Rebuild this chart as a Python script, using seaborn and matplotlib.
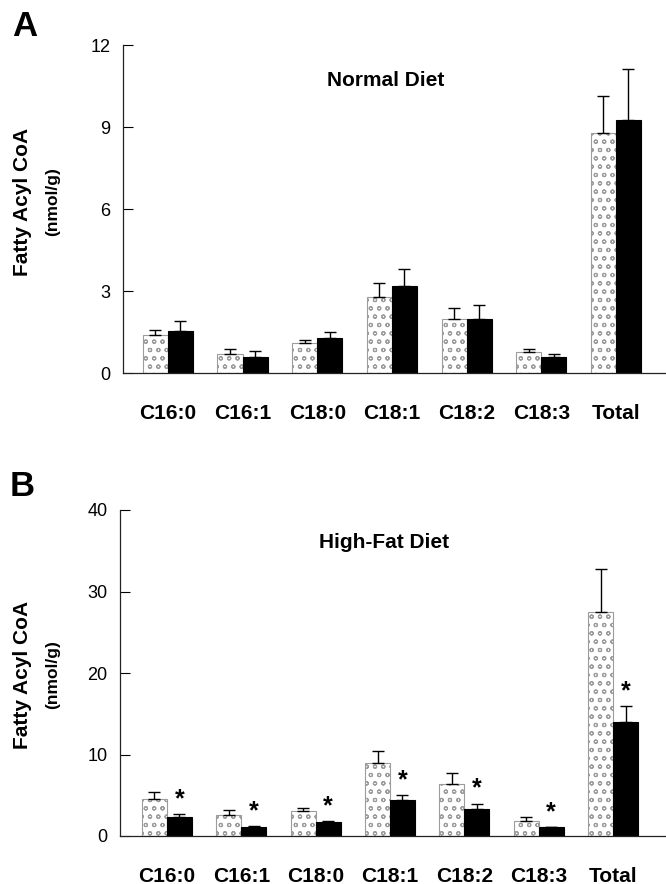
import seaborn as sns
import matplotlib.pyplot as plt
import pandas as pd

# fatty acyl CoA species on the x axis
species = ['C16:0', 'C16:1', 'C18:0', 'C18:1', 'C18:2', 'C18:3', 'Total']
groups = ['Control', 'Treated']

# Panel A - normal diet (nmol/g), mean and SE
normalCtrl = [1.40, 0.70, 1.08, 2.79, 1.98, 0.78, 8.77]
normalCtrlErr = [0.19, 0.19, 0.12, 0.49, 0.40, 0.10, 1.36]
normalTrt = [1.52, 0.59, 1.29, 3.18, 1.98, 0.57, 9.26]
normalTrtErr = [0.39, 0.20, 0.20, 0.61, 0.50, 0.11, 1.86]

# Panel B - high-fat diet (nmol/g), mean and SE
highCtrl = [4.6, 2.63, 3.03, 8.9, 6.43, 1.89, 27.5]
highCtrlErr = [0.8, 0.53, 0.41, 1.54, 1.31, 0.41, 5.2]
highTrt = [2.33, 1.10, 1.72, 4.42, 3.32, 1.07, 14.0]
highTrtErr = [0.34, 0.13, 0.17, 0.66, 0.66, 0.08, 2.0]
highStars = [True, True, True, True, True, True, True]

sns.set_style('white')
plt.rcParams['font.family'] = ['Liberation Sans', 'DejaVu Sans']
plt.rcParams['hatch.linewidth'] = 0.8
for k in ['text.color', 'axes.labelcolor', 'xtick.color', 'ytick.color']:
    plt.rcParams[k] = 'black'

W, H = 666, 884
fig = plt.figure(figsize=(W / 100, H / 100), dpi=100)


def drawPanel(rect, ctrl, ctrlErr, trt, trtErr, ymax, yticks, xlim, title, titleXY, letter, letterXY, ylabY, stars=None):
    ax = fig.add_axes(rect)
    df = pd.DataFrame({
        'species': species * 2,
        'group': [groups[0]] * len(species) + [groups[1]] * len(species),
        'value': ctrl + trt,
    })
    sns.barplot(data=df, x='species', y='value', hue='group', order=species, hue_order=groups,
                palette=['white', 'black'], width=0.67, gap=0, legend=False, errorbar=None,
                edgecolor='black', linewidth=0.8, ax=ax)

    errs = ctrlErr + trtErr
    vals = ctrl + trt
    patches = [p for p in ax.patches][:len(vals)]
    for i, p in enumerate(patches):
        if i < len(species):
            p.set_hatch('oo')
            p.set_edgecolor('#9c9c9c')
            p.set_linewidth(0.8)
        cx = p.get_x() + p.get_width() / 2
        ax.errorbar(cx, vals[i], yerr=[[0], [errs[i]]], fmt='none', ecolor='black',
                    elinewidth=1, capsize=4, capthick=1, zorder=1)
        if stars is not None and i >= len(species) and stars[i - len(species)]:
            ax.annotate('*', (cx, vals[i] + errs[i]), xytext=(0, 2), textcoords='offset points',
                        ha='center', va='bottom', fontsize=18, fontweight='bold')

    ax.set_ylim(0, ymax)
    ax.set_xlim(*xlim)
    ax.set_yticks(yticks)
    ax.set_xlabel('')
    ax.set_ylabel('')
    sns.despine(ax=ax)
    for s in ['left', 'bottom']:
        ax.spines[s].set_linewidth(0.9)
        ax.spines[s].set_color('#222222')
    ax.tick_params(axis='y', direction='in', length=7, width=0.8, labelsize=13, pad=9, left=True)
    ax.tick_params(axis='x', length=0, pad=22)
    for lab in ax.get_xticklabels():
        lab.set_fontweight('bold')
        lab.set_fontsize(15)

    fig.text(titleXY[0] / W, 1 - titleXY[1] / H, title, ha='center', va='center',
             fontsize=15, fontweight='bold')
    fig.text(letterXY[0] / W, 1 - letterXY[1] / H, letter, ha='left', va='top',
             fontsize=25, fontweight='bold')
    fig.text(23 / W, 1 - ylabY / H, 'Fatty Acyl CoA', rotation=90, ha='center', va='center',
             fontsize=15, fontweight='bold')
    fig.text(53 / W, 1 - ylabY / H, '(nmol/g)', rotation=90, ha='center', va='center',
             fontsize=12.5, fontweight='bold')
    return ax


drawPanel([123 / W, 1 - 373 / H, 1 - 123 / W, (373 - 45) / H],
          normalCtrl, normalCtrlErr, normalTrt, normalTrtErr,
          12, [0, 3, 6, 9, 12], (-0.6, 6.67),
          'Normal Diet', (386, 81), 'A', (12, 10), 202)

drawPanel([120 / W, 1 - 836 / H, 1 - 120 / W, (836 - 510) / H],
          highCtrl, highCtrlErr, highTrt, highTrtErr,
          40, [0, 10, 20, 30, 40], (-0.63, 6.71),
          'High-Fat Diet', (384, 543), 'B', (10, 470), 675, stars=highStars)

fig.savefig('out.png', dpi=100)
